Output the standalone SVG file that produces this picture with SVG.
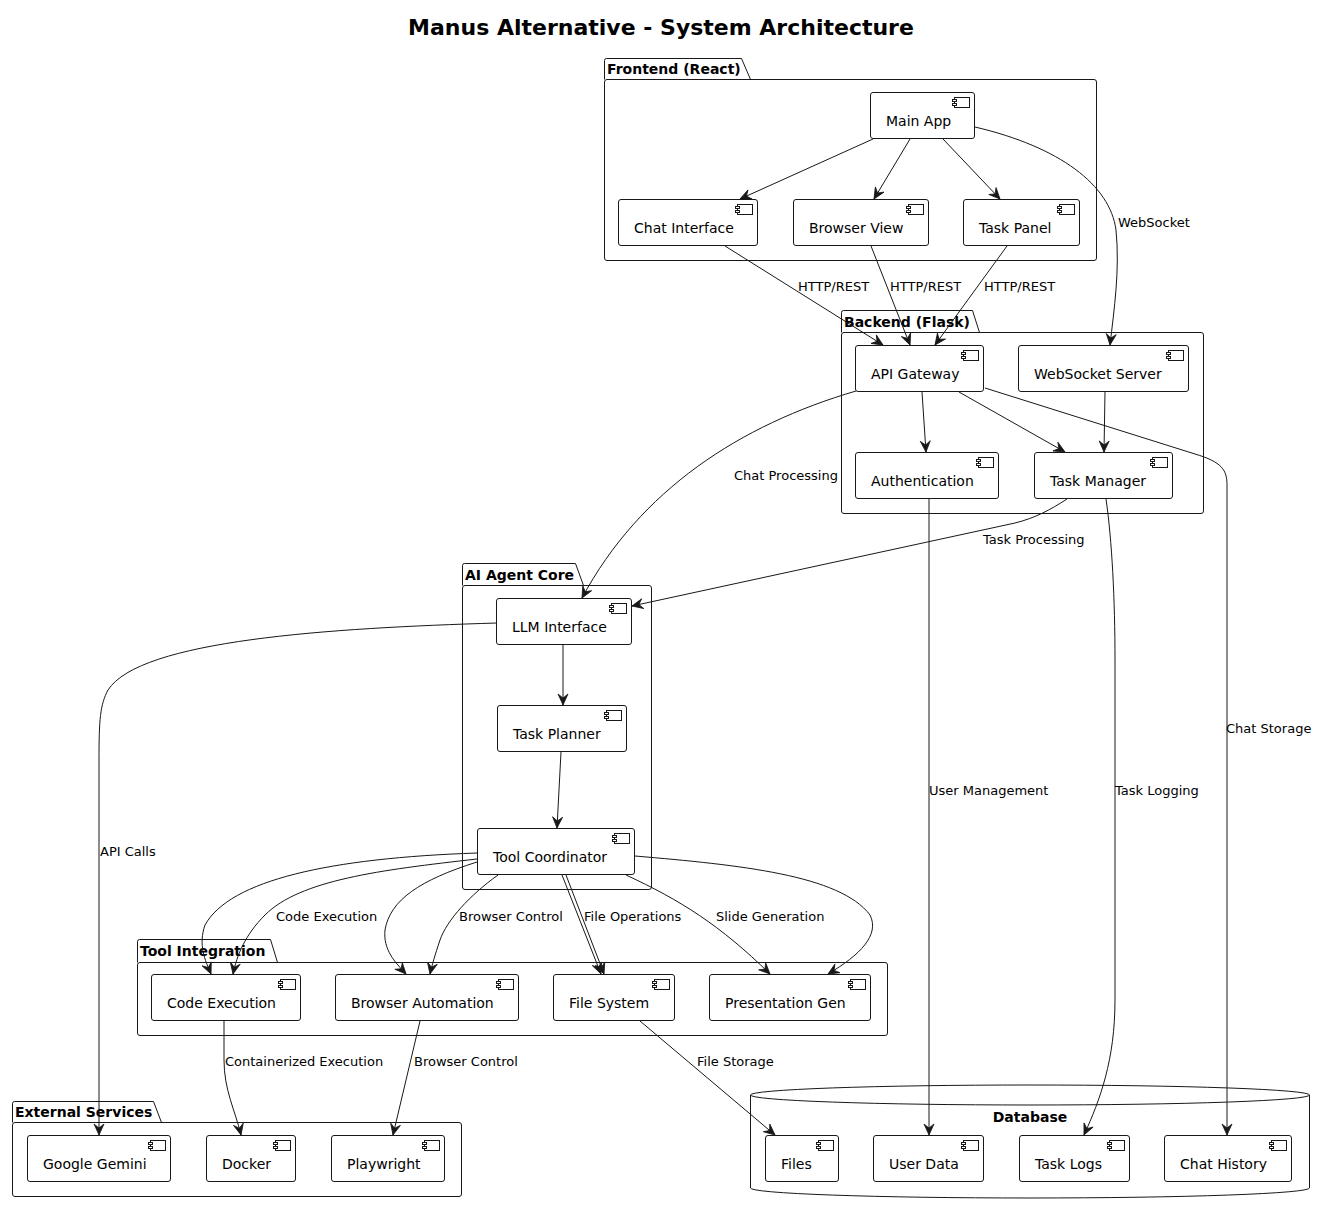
<svg xmlns="http://www.w3.org/2000/svg" xmlns:xlink="http://www.w3.org/1999/xlink" width="1323" height="1213" viewBox="0 0 1323 1213">
<style>
text{font-family:"DejaVu Sans","Liberation Sans",sans-serif;fill:#000}
.title{font-size:22px;font-weight:bold}
.pk{font-size:14px;font-weight:bold}
.cl{font-size:14px}
.el{font-size:13px}
.box{fill:#fff;stroke:#181818;stroke-width:1}
.pkg{fill:none;stroke:#181818;stroke-width:1}
.edge{fill:none;stroke:#181818;stroke-width:1;marker-end:url(#arr)}
</style>
<defs>
<marker id="arr" markerUnits="userSpaceOnUse" markerWidth="14" markerHeight="12" viewBox="-12 -6 13 12" refX="0" refY="0" orient="auto">
<path d="M0,0 L-11,-5 L-7,0 L-11,5 Z" fill="#181818" stroke="#181818" stroke-width="0.8" stroke-linejoin="miter"/>
</marker>
<g id="icon">
<rect x="-20" y="5" width="15" height="10" fill="#fff" stroke="#181818" stroke-width="1"/>
<rect x="-22" y="7" width="4" height="2" fill="#fff" stroke="#181818" stroke-width="1"/>
<rect x="-22" y="11" width="4" height="2" fill="#fff" stroke="#181818" stroke-width="1"/>
</g>
</defs>
<rect width="1323" height="1213" fill="#fff"/>
<text class="title" x="661" y="35" text-anchor="middle">Manus Alternative - System Architecture</text>

<!-- packages -->
<g id="pkg-frontend">
<path class="pkg" d="M604.5,79.5 L604.5,60.5 Q604.5,58.5 606.5,58.5 L741.5,58.5 L750.5,79.5"/>
<rect class="pkg" x="604.5" y="79.5" width="492" height="181" rx="2.5"/>
<text class="pk" x="607" y="74">Frontend (React)</text>
</g>
<g id="pkg-backend">
<path class="pkg" d="M841.5,332.5 L841.5,312.5 Q841.5,310.5 843.5,310.5 L972.5,310.5 L979.5,332.5"/>
<rect class="pkg" x="841.5" y="332.5" width="362" height="181" rx="2.5"/>
<text class="pk" x="844" y="327">Backend (Flask)</text>
</g>
<g id="pkg-ai">
<path class="pkg" d="M462.5,585.5 L462.5,565.5 Q462.5,563.5 464.5,563.5 L575.5,563.5 L583.5,585.5"/>
<rect class="pkg" x="462.5" y="585.5" width="189" height="304" rx="2.5"/>
<text class="pk" x="465" y="580">AI Agent Core</text>
</g>
<g id="pkg-tools">
<path class="pkg" d="M137.5,962.5 L137.5,941.5 Q137.5,939.5 139.5,939.5 L270.5,939.5 L277.5,962.5"/>
<rect class="pkg" x="137.5" y="962.5" width="750" height="73" rx="2.5"/>
<text class="pk" x="140" y="956">Tool Integration</text>
</g>
<g id="pkg-external">
<path class="pkg" d="M12.5,1122.5 L12.5,1103.5 Q12.5,1101.5 14.5,1101.5 L153.5,1101.5 L161.5,1122.5"/>
<rect class="pkg" x="12.5" y="1122.5" width="449" height="74" rx="2.5"/>
<text class="pk" x="15" y="1117">External Services</text>
</g>
<g id="pkg-database">
<path class="pkg" d="M750.5,1095 A279.5,10 0 0 1 1309.5,1095 L1309.5,1188 A279.5,10 0 0 1 750.5,1188 Z"/>
<path class="pkg" d="M750.5,1095 A279.5,10 0 0 0 1309.5,1095"/>
<text class="pk" x="1030" y="1122" text-anchor="middle">Database</text>
</g>

<!-- connectors -->
<g id="connectors">
<path class="edge" d="M873,139 L740,199"/>
<path class="edge" d="M910,139 L874,199"/>
<path class="edge" d="M943,139 L1000,199"/>
<path class="edge" d="M975,127 C1060,147 1110,185 1116,230 C1120,270 1114,310 1110,345"/>
<path class="edge" d="M725,246 L883,345"/>
<path class="edge" d="M871,246 L910,345"/>
<path class="edge" d="M1007,246 L935,345"/>
<path class="edge" d="M922,392 L926,452"/>
<path class="edge" d="M959,392 L1065,452"/>
<path class="edge" d="M1105,392 L1104,452"/>
<path class="edge" d="M985,388 L1195,454 C1222,462 1227,470 1227,485 L1227,1135"/>
<path class="edge" d="M856,391 C740,425 640,490 582,598"/>
<path class="edge" d="M1067,499 C1050,510 1035,518 1015,523 L632,606"/>
<path class="edge" d="M929,499 L929,1135"/>
<path class="edge" d="M1106,499 C1112,540 1115,600 1115,660 L1115,1000 C1115,1060 1100,1100 1084,1135"/>
<path class="edge" d="M497,623 C330,628 140,640 108,690 C100,705 99,720 99,760 L99,1135"/>
<path class="edge" d="M563,645 L563,705"/>
<path class="edge" d="M561,752 L557,828"/>
<path class="edge" d="M477,853 C330,858 230,880 205,925 C198,945 205,960 211,974"/>
<path class="edge" d="M477,859 C380,870 300,880 265,915 C245,935 237,955 233,974"/>
<path class="edge" d="M477,862 C420,880 390,900 385,930 C383,950 395,962 406,974"/>
<path class="edge" d="M498,875 C470,895 447,920 440,940 C435,955 432,965 430,974"/>
<path class="edge" d="M562,875 L601,974"/>
<path class="edge" d="M566,875 L604,974"/>
<path class="edge" d="M626,875 C680,900 720,925 770,974"/>
<path class="edge" d="M635,856 C740,865 840,875 870,915 C880,935 860,955 828,974"/>
<path class="edge" d="M224,1021 L224,1060 C224,1090 235,1110 241,1135"/>
<path class="edge" d="M420,1021 L393,1135"/>
<path class="edge" d="M640,1021 L775,1135"/>
<text class="el" x="1118" y="227">WebSocket</text>
<text class="el" x="798" y="291">HTTP/REST</text>
<text class="el" x="890" y="291">HTTP/REST</text>
<text class="el" x="984" y="291">HTTP/REST</text>
<text class="el" x="734" y="480">Chat Processing</text>
<text class="el" x="983" y="544">Task Processing</text>
<text class="el" x="1226" y="733">Chat Storage</text>
<text class="el" x="929" y="795">User Management</text>
<text class="el" x="1115" y="795">Task Logging</text>
<text class="el" x="100" y="856">API Calls</text>
<text class="el" x="276" y="921">Code Execution</text>
<text class="el" x="459" y="921">Browser Control</text>
<text class="el" x="584" y="921">File Operations</text>
<text class="el" x="716" y="921">Slide Generation</text>
<text class="el" x="225" y="1066">Containerized Execution</text>
<text class="el" x="414" y="1066">Browser Control</text>
<text class="el" x="697" y="1066">File Storage</text>
</g>

<!-- components -->
<g id="main-app"><rect class="box" x="870.5" y="92.5" width="104" height="46" rx="2.5"/><use xlink:href="#icon" x="974.5" y="92.5"/><text class="cl" x="886" y="126">Main App</text></g>
<g id="chat-interface"><rect class="box" x="618.5" y="199.5" width="139" height="46" rx="2.5"/><use xlink:href="#icon" x="757.5" y="199.5"/><text class="cl" x="634" y="233">Chat Interface</text></g>
<g id="browser-view"><rect class="box" x="793.5" y="199.5" width="135" height="46" rx="2.5"/><use xlink:href="#icon" x="928.5" y="199.5"/><text class="cl" x="809" y="233">Browser View</text></g>
<g id="task-panel"><rect class="box" x="963.5" y="199.5" width="116" height="46" rx="2.5"/><use xlink:href="#icon" x="1079.5" y="199.5"/><text class="cl" x="979" y="233">Task Panel</text></g>
<g id="api-gateway"><rect class="box" x="855.5" y="345.5" width="128" height="46" rx="2.5"/><use xlink:href="#icon" x="983.5" y="345.5"/><text class="cl" x="871" y="379">API Gateway</text></g>
<g id="websocket-server"><rect class="box" x="1018.5" y="345.5" width="170" height="46" rx="2.5"/><use xlink:href="#icon" x="1188.5" y="345.5"/><text class="cl" x="1034" y="379">WebSocket Server</text></g>
<g id="authentication"><rect class="box" x="855.5" y="452.5" width="143" height="46" rx="2.5"/><use xlink:href="#icon" x="998.5" y="452.5"/><text class="cl" x="871" y="486">Authentication</text></g>
<g id="task-manager"><rect class="box" x="1034.5" y="452.5" width="138" height="46" rx="2.5"/><use xlink:href="#icon" x="1172.5" y="452.5"/><text class="cl" x="1050" y="486">Task Manager</text></g>
<g id="llm-interface"><rect class="box" x="496.5" y="598.5" width="135" height="46" rx="2.5"/><use xlink:href="#icon" x="631.5" y="598.5"/><text class="cl" x="512" y="632">LLM Interface</text></g>
<g id="task-planner"><rect class="box" x="497.5" y="705.5" width="129" height="46" rx="2.5"/><use xlink:href="#icon" x="626.5" y="705.5"/><text class="cl" x="513" y="739">Task Planner</text></g>
<g id="tool-coordinator"><rect class="box" x="477.5" y="828.5" width="157" height="46" rx="2.5"/><use xlink:href="#icon" x="634.5" y="828.5"/><text class="cl" x="493" y="862">Tool Coordinator</text></g>
<g id="code-execution"><rect class="box" x="151.5" y="974.5" width="149" height="46" rx="2.5"/><use xlink:href="#icon" x="300.5" y="974.5"/><text class="cl" x="167" y="1008">Code Execution</text></g>
<g id="browser-automation"><rect class="box" x="335.5" y="974.5" width="183" height="46" rx="2.5"/><use xlink:href="#icon" x="518.5" y="974.5"/><text class="cl" x="351" y="1008">Browser Automation</text></g>
<g id="file-system"><rect class="box" x="553.5" y="974.5" width="121" height="46" rx="2.5"/><use xlink:href="#icon" x="674.5" y="974.5"/><text class="cl" x="569" y="1008">File System</text></g>
<g id="presentation-gen"><rect class="box" x="709.5" y="974.5" width="161" height="46" rx="2.5"/><use xlink:href="#icon" x="870.5" y="974.5"/><text class="cl" x="725" y="1008">Presentation Gen</text></g>
<g id="google-gemini"><rect class="box" x="27.5" y="1135.5" width="143" height="46" rx="2.5"/><use xlink:href="#icon" x="170.5" y="1135.5"/><text class="cl" x="43" y="1169">Google Gemini</text></g>
<g id="docker"><rect class="box" x="206.5" y="1135.5" width="89" height="46" rx="2.5"/><use xlink:href="#icon" x="295.5" y="1135.5"/><text class="cl" x="222" y="1169">Docker</text></g>
<g id="playwright"><rect class="box" x="331.5" y="1135.5" width="113" height="46" rx="2.5"/><use xlink:href="#icon" x="444.5" y="1135.5"/><text class="cl" x="347" y="1169">Playwright</text></g>
<g id="files"><rect class="box" x="765.5" y="1135.5" width="73" height="46" rx="2.5"/><use xlink:href="#icon" x="838.5" y="1135.5"/><text class="cl" x="781" y="1169">Files</text></g>
<g id="user-data"><rect class="box" x="873.5" y="1135.5" width="110" height="46" rx="2.5"/><use xlink:href="#icon" x="983.5" y="1135.5"/><text class="cl" x="889" y="1169">User Data</text></g>
<g id="task-logs"><rect class="box" x="1019.5" y="1135.5" width="110" height="46" rx="2.5"/><use xlink:href="#icon" x="1129.5" y="1135.5"/><text class="cl" x="1035" y="1169">Task Logs</text></g>
<g id="chat-history"><rect class="box" x="1164.5" y="1135.5" width="127" height="46" rx="2.5"/><use xlink:href="#icon" x="1291.5" y="1135.5"/><text class="cl" x="1180" y="1169">Chat History</text></g>
</svg>
